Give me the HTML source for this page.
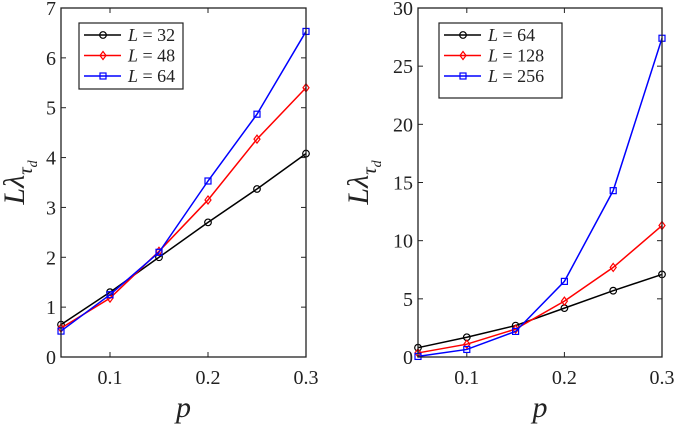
<!DOCTYPE html>
<html><head><meta charset="utf-8"><style>
body{margin:0;background:#fff;}
svg{display:block;font-family:"Liberation Serif",serif;}
</style></head><body>
<svg id="chart" width="675" height="429"></svg>
<script>
const xVals=[0.05,0.1,0.15,0.2,0.25,0.3];
const xTicks=[0.1,0.2,0.3];
const leftYTicks=[0,1,2,3,4,5,6,7];
const rightYTicks=[0,5,10,15,20,25,30];
const leftLabels=["L = 32","L = 48","L = 64"];
const rightLabels=["L = 64","L = 128","L = 256"];
const leftS1=[0.65,1.3,2.0,2.7,3.37,4.08];
const leftS2=[0.58,1.18,2.12,3.15,4.37,5.4];
const leftS3=[0.52,1.25,2.1,3.53,4.87,6.53];
const rightS1=[0.8,1.7,2.7,4.2,5.7,7.1];
const rightS2=[0.35,1.1,2.4,4.8,7.7,11.3];
const rightS3=[0.05,0.65,2.2,6.5,14.3,27.4];
const colors=["#000","#f00","#00f"];
const markers=["circle","diamond","square"];
const svg=document.getElementById('chart');
const NS="http://www.w3.org/2000/svg";
function mk(t,a,p){const e=document.createElementNS(NS,t);for(const k in a)e.setAttribute(k,a[k]);(p||svg).appendChild(e);return e;}
function marker(g,type,x,y,c){
  let e;
  if(type==="circle")e=mk('circle',{cx:x,cy:y,r:3.3,fill:'none',stroke:c,'stroke-width':1.2},g);
  else if(type==="diamond")e=mk('polygon',{points:`${x},${y-4} ${x+3},${y} ${x},${y+4} ${x-3},${y}`,fill:'none',stroke:c,'stroke-width':1.2},g);
  else e=mk('rect',{x:x-3,y:y-3,width:6,height:6,fill:'none',stroke:c,'stroke-width':1.2},g);
  
  
}
function panel(name,x0,x1,y0,y1,ymax,yTicks,series,labels,leg,ylabX){
  const g=mk('g',{});
  
  
  const sx=v=>x0+(v-0.05)/(0.3-0.05)*(x1-x0);
  const sy=v=>y1-v/ymax*(y1-y0);
  yTicks.forEach(t=>{
    const y=sy(t);
    mk('line',{x1:x0,x2:x0+5,y1:y,y2:y,stroke:'#222','stroke-width':1},g);
    mk('line',{x1:x1,x2:x1-5,y1:y,y2:y,stroke:'#222','stroke-width':1},g);
    const tx=mk('text',{x:x0-5,y:y+7,'text-anchor':'end','font-size':20,fill:'#222'},g);tx.textContent=t;
    
    
  });
  xTicks.forEach(t=>{
    const x=sx(t);
    mk('line',{x1:x,x2:x,y1:y1,y2:y1-5,stroke:'#222','stroke-width':1},g);
    mk('line',{x1:x,x2:x,y1:y0,y2:y0+5,stroke:'#222','stroke-width':1},g);
    const tx=mk('text',{x:x,y:y1+27,'text-anchor':'middle','font-size':20,fill:'#222'},g);tx.textContent=t;
    
    
  });
  series.forEach((s,i)=>{
    const l=mk('polyline',{points:s.map((v,j)=>sx(xVals[j])+','+sy(v)).join(' '),fill:'none',stroke:colors[i],'stroke-width':1.5},g);
    
    
    s.forEach((v,j)=>marker(g,markers[i],sx(xVals[j]),sy(v),colors[i]));
  });
  mk('rect',{x:x0,y:y0,width:x1-x0,height:y1-y0,fill:'none',stroke:'#222','stroke-width':1.3},g);
  const lg=mk('g',{},g);
  
  
  mk('rect',{x:leg[0],y:leg[1],width:leg[2],height:leg[3],fill:'#fff',stroke:'#222','stroke-width':1.2},lg);
  labels.forEach((t,i)=>{
    const y=leg[1]+12+i*20.5;
    mk('line',{x1:leg[0]+5,x2:leg[0]+42,y1:y,y2:y,stroke:colors[i],'stroke-width':1.5},lg);
    marker(lg,markers[i],leg[0]+24,y,colors[i]);
    const tx=mk('text',{x:leg[0]+49,y:y+6,'font-size':18,fill:'#222'},lg);
    tx.innerHTML='<tspan font-style="italic">L</tspan> = '+t.split('= ')[1];
    
    
  });
  const yl=mk('text',{x:0,y:0,transform:`translate(${ylabX},${(y0+y1)/2}) rotate(-90)`,'text-anchor':'middle','font-size':30,'font-style':'italic',fill:'#222'},g);
  yl.innerHTML='Lλ<tspan font-size="21" dy="8">τ</tspan><tspan font-size="14" dy="5">d</tspan>';
  
  
  const xl=mk('text',{x:(x0+x1)/2,y:417,'text-anchor':'middle','font-size':30,'font-style':'italic',fill:'#222'},g);
  xl.textContent='p';
  
  
}
panel('left-panel',61,306,8,357,7,leftYTicks,[leftS1,leftS2,leftS3],leftLabels,[79,23,104,66],24);
panel('right-panel',418,662,8,357,30,rightYTicks,[rightS1,rightS2,rightS3],rightLabels,[439,23,123,75],368);
</script>
</body></html>
